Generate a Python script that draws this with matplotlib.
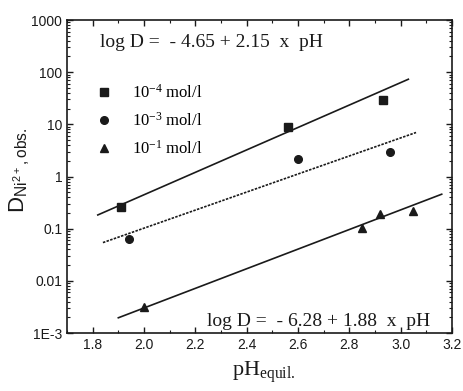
import numpy as np
import matplotlib
matplotlib.use("Agg")
import matplotlib.pyplot as plt
from matplotlib.ticker import LogLocator, FixedLocator, MultipleLocator, FixedFormatter, NullFormatter

plt.rcParams['mathtext.default'] = 'regular'

# data
sq_x = [1.91, 2.56, 2.93]
sq_y = [0.26, 9.0, 29.0]
ci_x = [1.94, 2.60, 2.96]
ci_y = [0.064, 2.2, 2.9]
tr_x = [2.00, 2.85, 2.92, 3.05]
tr_y = [0.0032, 0.105, 0.19, 0.22]

# fit lines: intercept, slope, x range
fit_sq = (-4.65, 2.15, 1.82, 3.03)
fit_ci = (-4.45, 1.73, 1.84, 3.06)
fit_tr = (-6.28, 1.88, 1.90, 3.16)

labels = [r'10$^{-4}$ mol/l', r'10$^{-3}$ mol/l', r'10$^{-1}$ mol/l']
yticks = [1e-3, 1e-2, 1e-1, 1, 10, 100, 1000]
yticklabels = ['1E-3', '0.01', '0.1', '1', '10', '100', '1000']
xticks = [1.8, 2.0, 2.2, 2.4, 2.6, 2.8, 3.0, 3.2]
xticklabels = ['1.8', '2.0', '2.2', '2.4', '2.6', '2.8', '3.0', '3.2']

fig = plt.figure(figsize=(4.63, 3.91), dpi=100)
ax = fig.add_axes([0.1447, 0.1483, 0.8315, 0.8005])
col = '#1a1a1a'

def fitline(p, ls):
    a, b, x0, x1 = p
    xs = np.array([x0, x1])
    ax.plot(xs, 10 ** (a + b * xs), color=col, lw=1.2, ls=ls)

fitline(fit_sq, '-')
fitline(fit_ci, (0, (1.5, 0.8)))
fitline(fit_tr, '-')

ax.plot(sq_x, sq_y, 's', color=col, ms=5.5, ls='none', label=labels[0])
ax.plot(ci_x, ci_y, 'o', color=col, ms=5.5, ls='none', label=labels[1])
ax.plot(tr_x, tr_y, '^', color=col, ms=5.5, ls='none', label=labels[2])

ax.set_yscale('log')
ax.set_xlim(1.7, 3.2)
ax.set_ylim(1e-3, 1e3)

ax.yaxis.set_major_locator(FixedLocator(yticks))
ax.yaxis.set_major_formatter(FixedFormatter(yticklabels))
ax.yaxis.set_minor_locator(LogLocator(base=10, subs=np.arange(2, 10), numticks=20))
ax.yaxis.set_minor_formatter(NullFormatter())
ax.xaxis.set_major_locator(FixedLocator(xticks))
ax.xaxis.set_major_formatter(FixedFormatter(xticklabels))
ax.xaxis.set_minor_locator(MultipleLocator(0.1))

ax.tick_params(which='both', direction='in', top=True, right=True, colors=col,
               labelsize=10)
ax.tick_params(which='major', length=4, width=1)
ax.tick_params(which='minor', length=2.5, width=0.8)
for lab in ax.get_xticklabels() + ax.get_yticklabels():
    lab.set_family('Liberation Sans')
for s in ax.spines.values():
    s.set_linewidth(1.2)
    s.set_color(col)

serif = 'Liberation Serif'
ax.text(0.085, 0.927, 'log D =  - 4.65 + 2.15  x  pH', transform=ax.transAxes,
        family=serif, fontsize=14, va='center', ha='left', color=col)
ax.text(0.943, 0.037, 'log D =  - 6.28 + 1.88  x  pH', transform=ax.transAxes,
        family=serif, fontsize=14, va='center', ha='right', color=col)

ax.legend(loc='upper left', bbox_to_anchor=(0.052, 0.823), frameon=False,
          prop={'family': serif, 'size': 12}, handlelength=1.0,
          handletextpad=1.2, labelspacing=0.6, borderpad=0)

ax.set_xlabel(r'pH$_{equil.}$', family=serif, fontsize=16, color=col)
ax.xaxis.set_label_coords(0.512, -0.085)
ax.set_ylabel(r'D$_{Ni^{2+}, obs.}$', family='Liberation Sans', fontsize=16,
              color=col)
ax.yaxis.set_label_coords(-0.092, 0.52)

fig.savefig('out.png', dpi=100, facecolor='white')
